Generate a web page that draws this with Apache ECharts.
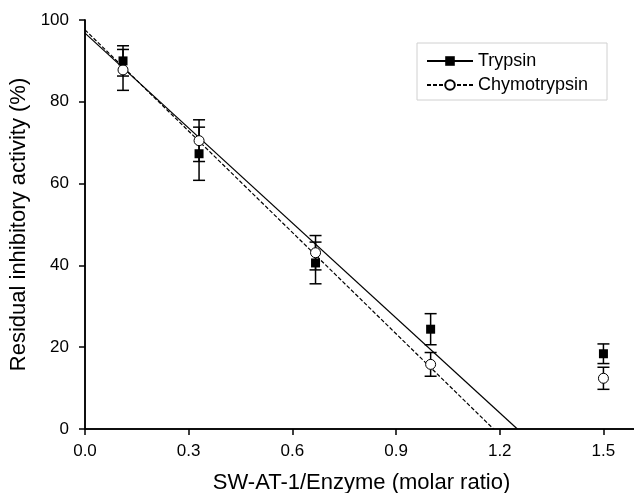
<!DOCTYPE html>
<html>
<head>
    <meta charset="utf-8">
    <title>Residual inhibitory activity</title>
    <script src="https://cdn.jsdelivr.net/npm/echarts@6/dist/echarts.min.js"></script>
    <style>
        html, body { margin: 0; padding: 0; background: #fff; }
        #chart { width: 634px; height: 493px; }
    </style>
</head>
<body>
    <div id="chart"></div>
    <script>
        // data
        const ratios = [0.11, 0.33, 0.667, 1.0, 1.5];
        const trypsin = [90.0, 67.3, 40.6, 24.4, 18.4];
        const trypsinErr = [3.7, 6.5, 5.1, 3.8, 2.4];
        const chymo = [87.8, 70.5, 43.1, 15.8, 12.4];
        const chymoErr = [5.0, 5.1, 4.2, 2.9, 2.7];
        // linear fits: [x, y] at y-intercept and x-intercept
        const trypsinFit = [[0, 96.8], [1.251, 0]];
        const chymoFit = [[0, 97.6], [1.182, 0]];

        const font = 'Liberation Sans, Arial, sans-serif';

        function errData(vals, errs) {
            return ratios.map((x, i) => [x, vals[i] - errs[i], vals[i] + errs[i]]);
        }

        // 误差线
        function errorBar(params, api) {
            const lo = api.coord([api.value(0), api.value(1)]);
            const hi = api.coord([api.value(0), api.value(2)]);
            const w = 6;
            const style = { stroke: '#000', lineWidth: 1.5 };
            return {
                type: 'group',
                children: [
                    { type: 'line', shape: { x1: lo[0], y1: lo[1], x2: hi[0], y2: hi[1] }, style: style },
                    { type: 'line', shape: { x1: lo[0] - w, y1: lo[1], x2: lo[0] + w, y2: lo[1] }, style: style },
                    { type: 'line', shape: { x1: hi[0] - w, y1: hi[1], x2: hi[0] + w, y2: hi[1] }, style: style }
                ]
            };
        }

        const chart = echarts.init(document.getElementById('chart'));
        chart.setOption({
            animation: false,
            textStyle: { fontFamily: font },
            grid: { left: 85, top: 20, width: 553, height: 409, outerBoundsMode: 'none', containLabel: false },
            legend: {
                orient: 'vertical',
                left: 417, top: 43,
                padding: [8, 19, 5, 9],
                itemWidth: 46, itemHeight: 12, itemGap: 4,
                borderColor: '#d0d0d0', borderWidth: 1,
                data: ['Trypsin', 'Chymotrypsin'],
                textStyle: { fontSize: 18, color: '#000', lineHeight: 20, fontFamily: font }
            },
            xAxis: [{
                type: 'value', min: 0, max: 1.6, interval: 0.3,
                name: 'SW-AT-1/Enzyme (molar ratio)',
                nameLocation: 'middle', nameGap: 43,
                nameTextStyle: { fontSize: 22, color: '#000', fontFamily: font },
                axisLine: { lineStyle: { color: '#000', width: 1.5 } },
                axisTick: { inside: false, length: 6, lineStyle: { color: '#000', width: 1.5 } },
                axisLabel: { fontSize: 17, color: '#000', margin: 14, showMaxLabel: false,
                    formatter: v => v.toFixed(1) },
                splitLine: { show: false }
            }, {
                type: 'value', position: 'top', min: 0, max: 1.6, interval: 0.3,
                axisLine: { lineStyle: { color: '#000', width: 1.5 } },
                axisTick: { inside: true, length: 6, lineStyle: { color: '#000', width: 1.5 } },
                axisLabel: { show: false },
                splitLine: { show: false }
            }],
            yAxis: [{
                type: 'value', min: 0, max: 100, interval: 20,
                name: 'Residual inhibitory activity (%)',
                nameLocation: 'middle', nameGap: 54,
                nameTextStyle: { fontSize: 22, color: '#000', fontFamily: font },
                axisLine: { lineStyle: { color: '#000', width: 1.5 } },
                axisTick: { inside: false, length: 6, lineStyle: { color: '#000', width: 1.5 } },
                axisLabel: { fontSize: 17, color: '#000', margin: 16 },
                splitLine: { show: false }
            }, {
                type: 'value', position: 'right', min: 0, max: 100, interval: 20,
                axisLine: { lineStyle: { color: '#000', width: 1.5 } },
                axisTick: { inside: true, length: 6, lineStyle: { color: '#000', width: 1.5 } },
                axisLabel: { show: false },
                splitLine: { show: false }
            }],
            series: [
                {
                    name: 'Trypsin', type: 'line', data: trypsinFit,
                    symbol: 'rect', symbolSize: 9, showSymbol: false,
                    itemStyle: { color: '#000' },
                    lineStyle: { color: '#000', width: 1.2 }, z: 2
                },
                {
                    name: 'Chymotrypsin', type: 'line', data: chymoFit,
                    symbol: 'circle', symbolSize: 10, showSymbol: false,
                    itemStyle: { color: '#fff', borderColor: '#000', borderWidth: 1 },
                    lineStyle: { color: '#000', width: 1.2, type: [4, 2] }, z: 2
                },
                {
                    name: 'Trypsin', type: 'custom', renderItem: errorBar,
                    data: errData(trypsin, trypsinErr), z: 3
                },
                {
                    name: 'Chymotrypsin', type: 'custom', renderItem: errorBar,
                    data: errData(chymo, chymoErr), z: 3
                },
                {
                    name: 'Chymotrypsin', type: 'scatter', symbol: 'circle', symbolSize: 10,
                    data: ratios.map((x, i) => [x, chymo[i]]),
                    itemStyle: { color: '#fff', borderColor: '#000', borderWidth: 1, opacity: 1 }, z: 4
                },
                {
                    name: 'Trypsin', type: 'scatter', symbol: 'rect', symbolSize: 9,
                    data: ratios.map((x, i) => [x, trypsin[i]]),
                    itemStyle: { color: '#000', opacity: 1 }, z: 5
                }
            ]
        });
    </script>
</body>
</html>
